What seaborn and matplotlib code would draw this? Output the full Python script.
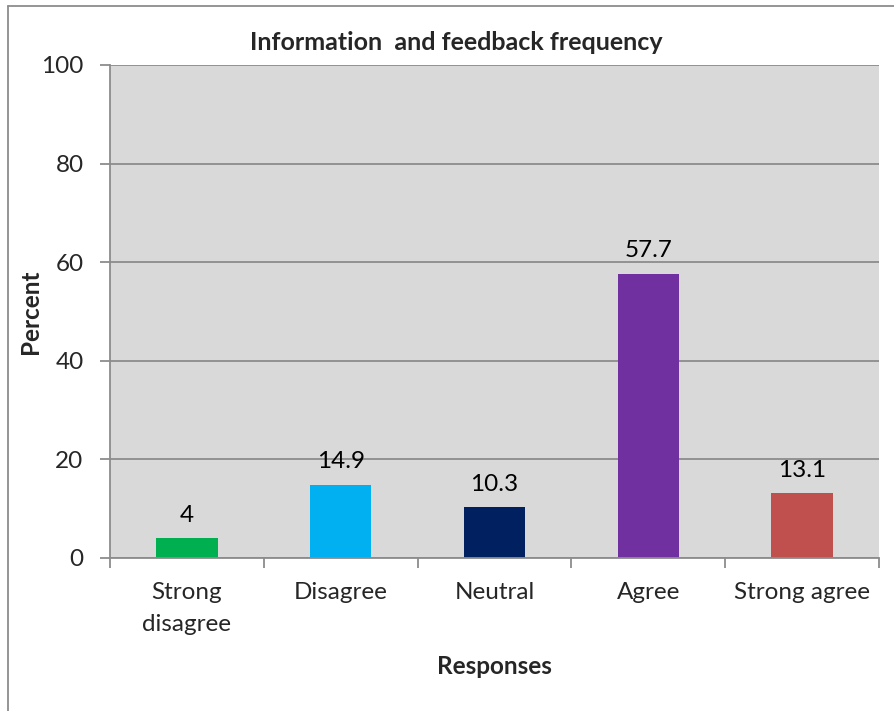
import matplotlib
matplotlib.use("Agg")
import matplotlib.pyplot as plt
import seaborn as sns
import pandas as pd
from matplotlib.lines import Line2D

categories = ["Strong\ndisagree", "Disagree", "Neutral", "Agree", "Strong agree"]
percents = [4, 14.9, 10.3, 57.7, 13.1]
bar_labels = ["4", "14.9", "10.3", "57.7", "13.1"]
colors = ["#00B050", "#00B0F0", "#002060", "#7030A0", "#C0504D"]
yticks = [0, 20, 40, 60, 80, 100]

sns.set_theme(style="white")
plt.rcParams['font.family'] = ['Lato', 'DejaVu Sans']

df = pd.DataFrame({"Responses": categories, "Percent": percents})

fig = plt.figure(figsize=(8.95, 7.11), dpi=100)
ax = fig.add_axes([110/895, 1-558/711, (879-110)/895, (558-65)/711])

sns.barplot(data=df, x="Responses", y="Percent", hue="Responses", palette=colors,
            width=0.4, legend=False, ax=ax, saturation=1, linewidth=0, edgecolor="none")

ax.set_facecolor("#D9D9D9")
ax.set_ylim(0, 100)
ax.set_xlim(-0.5, len(categories) - 0.5)
ax.set_yticks(yticks)
ax.set_yticklabels([str(v) for v in yticks], fontsize=17.5)
ax.yaxis.grid(True, color="#8C8C8C", linewidth=1.3)
ax.set_axisbelow(True)

ax.set_xticks(range(len(categories)))
ax.set_xticklabels(categories, fontsize=17.5, linespacing=1.65)
ax.set_xticks([i - 0.5 for i in range(len(categories) + 1)], minor=True)
ax.tick_params(axis="x", which="major", length=0, pad=17)
ax.tick_params(axis="x", which="minor", length=7, width=1.3, color="#8C8C8C", direction="out", bottom=True)
ax.tick_params(axis="y", length=7, width=1.3, color="#8C8C8C", direction="out", left=True, pad=12)

for s in ["top", "right"]:
    ax.spines[s].set_visible(False)
for s in ["left", "bottom"]:
    ax.spines[s].set_color("#8C8C8C")
    ax.spines[s].set_linewidth(1.3)

for cont, lab in zip(ax.containers, bar_labels):
    ax.bar_label(cont, labels=[lab], padding=9, fontsize=17.5, color="#000000")

ax.set_xlabel("Responses", fontsize=17.5, fontweight="bold", labelpad=14)
ax.xaxis.set_label_coords(0.5, (558-666)/(558-65), transform=ax.transAxes)
ax.xaxis.label.set_va("center")
ax.set_ylabel("Percent", fontsize=17.5, fontweight="bold")
ax.yaxis.set_label_coords((30-110)/(879-110), (558-312)/(558-65), transform=ax.transAxes)
ax.yaxis.label.set_va("center")

fig.text(456/895, 1-42/711, "Information  and feedback frequency", fontsize=18,
         fontweight="bold", ha="center", va="center")

# chart border (left and top visible)
fig.add_artist(Line2D([8/895, 8/895], [0, 1-6/711], transform=fig.transFigure, color="#8C8C8C", lw=1.3))
fig.add_artist(Line2D([8/895, 1], [1-6/711, 1-6/711], transform=fig.transFigure, color="#8C8C8C", lw=1.3))

fig.savefig("out.png", dpi=100, facecolor="white")
